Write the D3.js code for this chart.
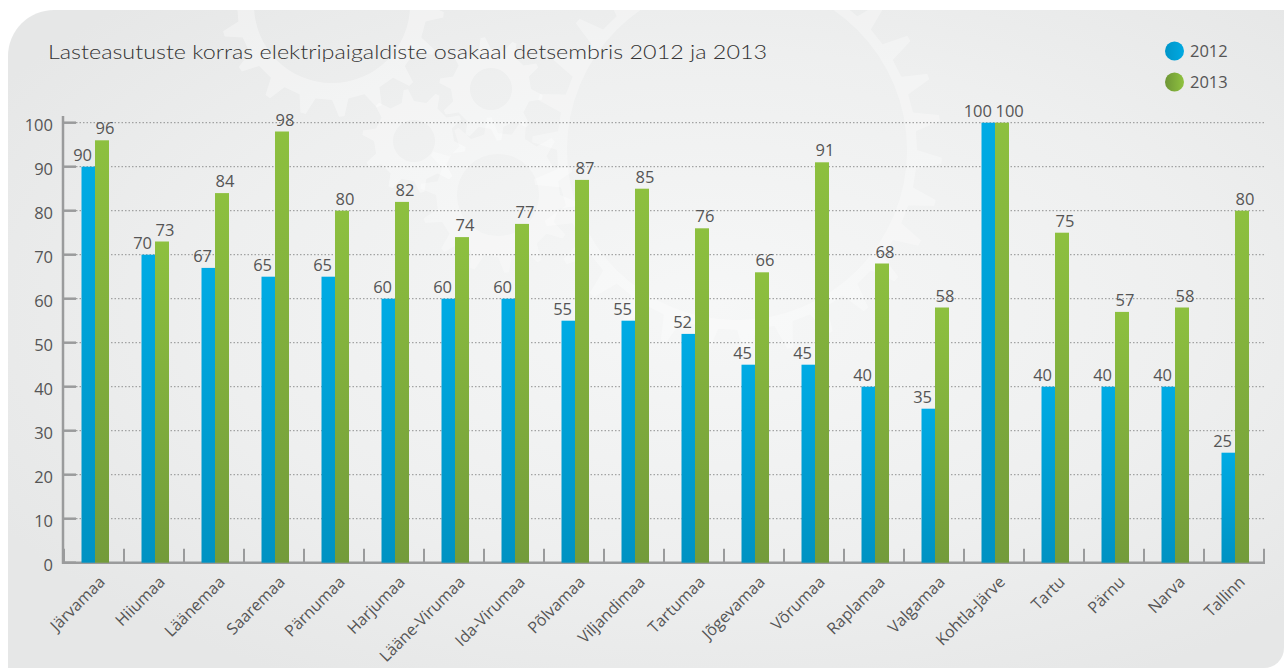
<!DOCTYPE html>
<html>
<head>
<meta charset="utf-8">
<script src="https://cdn.jsdelivr.net/npm/d3@7"></script>
<style>
  html, body { margin: 0; padding: 0; background: #ffffff; }
  svg { display: block; }
</style>
</head>
<body>
<svg id="chart" width="1284" height="669"></svg>
<script>
const titleText = "Lasteasutuste korras elektripaigaldiste osakaal detsembris 2012 ja 2013";
const categories = ["Järvamaa","Hiiumaa","Läänemaa","Saaremaa","Pärnumaa","Harjumaa","Lääne-Virumaa","Ida-Virumaa","Põlvamaa","Viljandimaa","Tartumaa","Jõgevamaa","Võrumaa","Raplamaa","Valgamaa","Kohtla-Järve","Tartu","Pärnu","Narva","Tallinn"];
const values2012 = [90,70,67,65,65,60,60,60,55,55,52,45,45,40,35,100,40,40,40,25];
const values2013 = [96,73,84,98,80,82,74,77,87,85,76,66,91,68,58,100,75,57,58,80];
const seriesNames = ["2012","2013"];
const yTicks = [0,10,20,30,40,50,60,70,80,90,100];

const svg = d3.select("#chart");
const defs = svg.append("defs");

const bg = defs.append("radialGradient").attr("id","bgGrad")
  .attr("cx","0.55").attr("cy","0.45").attr("r","0.65");
bg.append("stop").attr("offset","0%").attr("stop-color","#f6f7f7");
bg.append("stop").attr("offset","60%").attr("stop-color","#eeefef");
bg.append("stop").attr("offset","100%").attr("stop-color","#e6e7e7");

function vgrad(id, top, bottom) {
  const g = defs.append("linearGradient").attr("id", id).attr("x1",0).attr("y1",0).attr("x2",0).attr("y2",1);
  g.append("stop").attr("offset","0%").attr("stop-color", top);
  g.append("stop").attr("offset","100%").attr("stop-color", bottom);
}
vgrad("blueGrad", "#00abe4", "#0092c2");
vgrad("greenGrad", "#8dc03f", "#739b3a");
const lg = defs.append("linearGradient").attr("id","greenLeg").attr("x1",0).attr("y1",0).attr("x2",1).attr("y2",0);
lg.append("stop").attr("offset","0%").attr("stop-color","#6e9636");
lg.append("stop").attr("offset","100%").attr("stop-color","#8fc23f");
const lb = defs.append("linearGradient").attr("id","blueLeg").attr("x1",0).attr("y1",0).attr("x2",1).attr("y2",0);
lb.append("stop").attr("offset","0%").attr("stop-color","#0095c8");
lb.append("stop").attr("offset","100%").attr("stop-color","#00a9e2");

const px0 = 8, py0 = 10, px1 = 1284, py1 = 668, rTL = 46, rBR = 20;
const panelPath = `M${px0},${py0+rTL} A${rTL},${rTL} 0 0 1 ${px0+rTL},${py0} L${px1},${py0} L${px1},${py1-rBR} A${rBR},${rBR} 0 0 1 ${px1-rBR},${py1} L${px0},${py1} Z`;
defs.append("clipPath").attr("id","panelClip").append("path").attr("d", panelPath);
svg.append("path").attr("d", panelPath).attr("fill","url(#bgGrad)");

// decorative faint gears
function gearPath(cx, cy, rIn, rOut, n) {
  const pts = [];
  const step = 2*Math.PI/n;
  for (let i = 0; i < n; i++) {
    const a = i*step;
    const angs = [a, a+step*0.18, a+step*0.32, a+step*0.5];
    pts.push([rIn, angs[0]],[rOut, angs[1]],[rOut, angs[2]],[rIn, angs[3]]);
  }
  let d = "";
  pts.forEach((p,i) => {
    const x = cx + p[0]*Math.cos(p[1]), y = cy + p[0]*Math.sin(p[1]);
    d += (i===0 ? "M" : "L") + x.toFixed(1) + "," + y.toFixed(1);
  });
  return d + "Z";
}
const gearG = svg.append("g").attr("clip-path","url(#panelClip)").attr("fill","#ffffff");
function gear(cx, cy, rIn, rOut, n, hole, op) {
  const hp = `M${cx-hole},${cy} a${hole},${hole} 0 1 0 ${2*hole},0 a${hole},${hole} 0 1 0 ${-2*hole},0Z`;
  gearG.append("path").attr("d", gearPath(cx,cy,rIn,rOut,n) + hp)
    .attr("fill-rule","evenodd").attr("opacity", op);
}
gear(332, 5, 95, 112, 18, 78, 0.35);
gear(491, 89, 40, 52, 10, 21, 0.35);
gear(414, 141, 40, 52, 10, 21, 0.35);
gear(498, 195, 62, 78, 14, 41, 0.3);
gear(737, 150, 180, 205, 30, 170, 0.3);

const x = d3.scaleBand().domain(categories).range([64, 1264]).paddingInner(0).paddingOuter(0);
const y = d3.scaleLinear().domain([0, 100]).range([562.7, 122.7]);
const barW = 13.5;

const textColor = "#555555";
const axisColor = "#9a9b9c";

svg.append("g").selectAll("line").data(yTicks.filter(d => d > 0)).join("line")
  .attr("x1", 76).attr("x2", 1265)
  .attr("y1", d => y(d)).attr("y2", d => y(d))
  .attr("stroke", "#8f9090").attr("stroke-width", 1).attr("stroke-dasharray", "1.5,2");

const yAxis = d3.axisLeft(y).tickValues(yTicks).tickSize(0).tickPadding(10);
const yg = svg.append("g").attr("transform", "translate(63,3)").call(yAxis);
yg.select(".domain").remove();
yg.selectAll("text").attr("fill", textColor).attr("font-family","'Open Sans', sans-serif").attr("font-size", 16.5);

svg.append("line").attr("x1",63).attr("x2",63).attr("y1",116).attr("y2",563.7)
  .attr("stroke", axisColor).attr("stroke-width", 2.5);
svg.append("g").selectAll("line").data(yTicks).join("line")
  .attr("x1", 63).attr("x2", 76).attr("y1", d => y(d)).attr("y2", d => y(d))
  .attr("stroke", axisColor).attr("stroke-width", 2.5);

svg.append("line").attr("x1",62).attr("x2",1265).attr("y1",y(0)).attr("y2",y(0))
  .attr("stroke", axisColor).attr("stroke-width", 2.5);
const bounds = categories.map(c => x(c)).concat([x(categories[categories.length-1]) + x.bandwidth()]);
svg.append("g").selectAll("line").data(bounds).join("line")
  .attr("x1", d => d).attr("x2", d => d).attr("y1", y(0)-14).attr("y2", y(0))
  .attr("stroke", axisColor).attr("stroke-width", 2);

const centers = categories.map(c => x(c) + x.bandwidth()/2 + 1);
const barsG = svg.append("g");
barsG.selectAll("rect.b12").data(values2012).join("rect").attr("class","b12")
  .attr("x", (d,i) => centers[i] - barW).attr("width", barW)
  .attr("y", d => y(d)).attr("height", d => y(0) - y(d))
  .attr("fill", "url(#blueGrad)");
barsG.selectAll("rect.b13").data(values2013).join("rect").attr("class","b13")
  .attr("x", (d,i) => centers[i]).attr("width", barW + 0.5)
  .attr("y", d => y(d)).attr("height", d => y(0) - y(d))
  .attr("fill", "url(#greenGrad)");

const lblG = svg.append("g").attr("font-family","'Open Sans', sans-serif").attr("font-size", 16.5).attr("fill", textColor);
lblG.selectAll("text.l12").data(values2012).join("text").attr("class","l12")
  .attr("x", (d,i) => centers[i] - 3).attr("y", d => y(d) - 6)
  .attr("text-anchor","end").text(d => d);
lblG.selectAll("text.l13").data(values2013).join("text").attr("class","l13")
  .attr("x", (d,i) => centers[i] + 0.5).attr("y", d => y(d) - 6)
  .attr("text-anchor","start").text(d => d);

svg.append("g").selectAll("text").data(categories).join("text")
  .attr("transform", (d,i) => `translate(${centers[i] + 11},${583}) rotate(-45)`)
  .attr("text-anchor","end")
  .attr("font-family","'Open Sans', sans-serif").attr("font-size", 16)
  .attr("fill", textColor).text(d => d);

svg.append("text").attr("x", 48).attr("y", 59)
  .attr("font-family","Lato, sans-serif").attr("font-weight", 300).attr("font-size", 20.5)
  .attr("fill", "#333333").attr("textLength", 719).attr("lengthAdjust","spacingAndGlyphs")
  .text(titleText);

const legG = svg.append("g");
const legFills = ["url(#blueLeg)", "url(#greenLeg)"];
seriesNames.forEach((s, i) => {
  const cy = 51 + i*31;
  legG.append("circle").attr("cx", 1174.5).attr("cy", cy).attr("r", 9.5).attr("fill", legFills[i]);
  legG.append("text").attr("x", 1190).attr("y", cy + 6)
    .attr("font-family","'Open Sans', sans-serif").attr("font-size", 16.5)
    .attr("fill", textColor).text(s);
});
</script>
</body>
</html>
